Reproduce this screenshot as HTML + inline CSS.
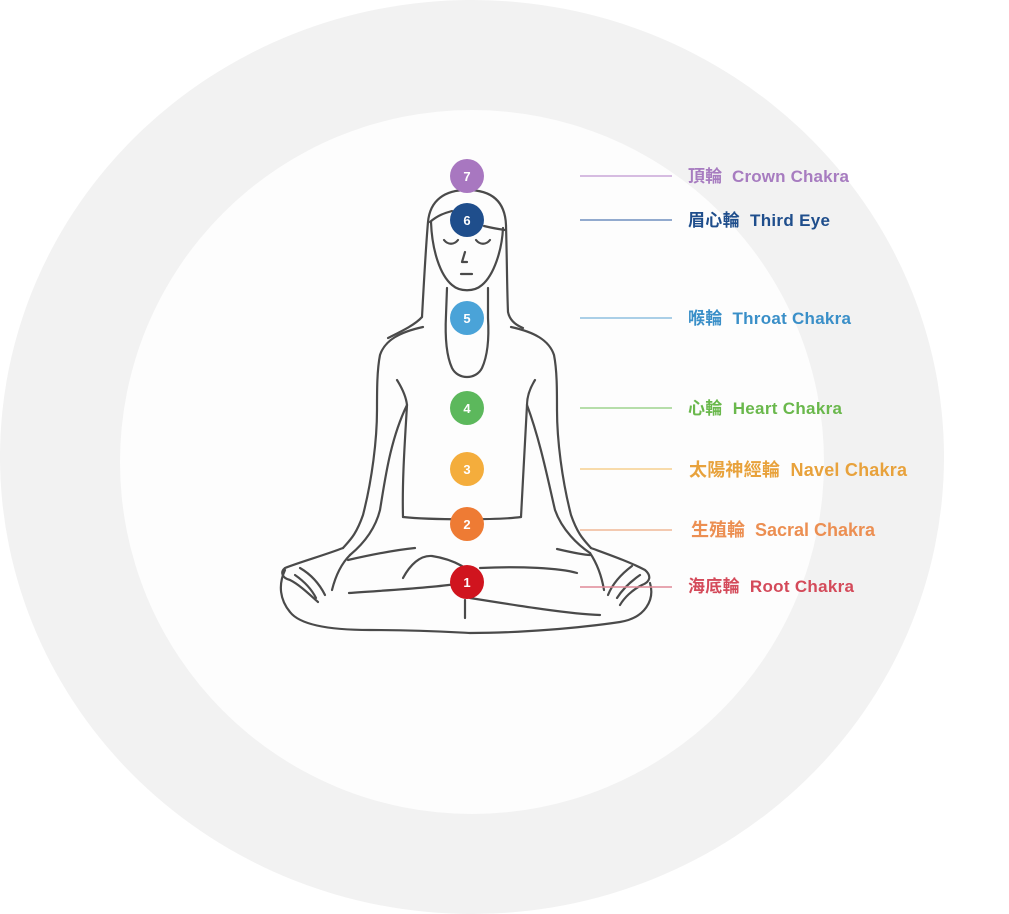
<!DOCTYPE html>
<html><head><meta charset="utf-8"><style>
html,body{margin:0;padding:0;background:#fff;width:1009px;height:914px;overflow:hidden}
text{font-family:"Liberation Sans","Noto Sans CJK TC",sans-serif;font-size:17px;font-weight:bold}
</style></head><body>
<svg width="1009" height="914" viewBox="0 0 1009 914" xmlns="http://www.w3.org/2000/svg">
<ellipse cx="472" cy="457" rx="472" ry="457" fill="#f2f2f2"/>
<circle cx="472" cy="462" r="352" fill="#fdfdfd"/>
<g fill="none" stroke="#4a4a4a" stroke-width="2.2" stroke-linecap="round" stroke-linejoin="round">
<path d="M422,317 C424,280 426,245 428,222 C430,200 445,190 467,190 C490,190 505,200 506,225 C507,260 507,290 508,312 C510,322 518,326 523,328"/>
<path d="M422,317 C415,325 400,332 388,338"/>
<path d="M430,222 C438,215 445,213 452,211"/>
<path d="M484,226 C492,228 498,229 505,230"/>
<path d="M431,222 C432,250 440,275 452,285 C460,292 474,292 482,285 C494,275 502,250 503,228"/>
<path d="M444,240 C448,245 454,245 458,240"/>
<path d="M476,240 C480,245 486,245 490,240"/>
<path d="M465,252 L462,262 L467,262"/>
<path d="M461,274 L472,274"/>
<path d="M447,288 L446,315 C445,335 446,355 452,368 C458,380 476,380 482,368 C488,355 489,335 488,318 L488,288"/>
<path d="M423,327 C400,332 385,340 380,355 C377,370 377,390 377,410 C377,440 372,480 363,515 C356,535 350,540 343,548"/>
<path d="M511,327 C534,332 549,340 554,355 C557,370 557,390 557,410 C557,440 562,480 571,515 C578,535 584,540 591,548"/>
<path d="M397,380 C402,388 406,396 407,405 C405,440 402,480 403,517"/>
<path d="M535,380 C530,388 527,396 527,405 C525,440 523,480 521,517"/>
<path d="M403,517 C430,520 500,520 521,517"/>
<path d="M407,405 C390,440 385,480 380,510 C375,530 362,545 350,555"/>
<path d="M527,405 C540,440 548,480 555,510 C562,530 578,545 590,553"/>
<path d="M343,548 C325,555 300,562 285,568 C280,572 282,578 290,580 C300,585 310,595 318,602"/>
<path d="M350,555 C340,565 335,578 332,590"/>
<path d="M295,575 C305,582 312,590 316,598"/>
<path d="M300,568 C312,575 320,585 325,595"/>
<path d="M591,548 C610,555 630,562 645,570 C652,576 650,582 642,585 C632,590 624,598 620,605"/>
<path d="M590,553 C598,565 602,578 604,590"/>
<path d="M640,575 C630,582 622,590 617,598"/>
<path d="M632,566 C620,575 612,585 608,595"/>
<path d="M285,570 C278,585 280,600 290,612 C300,625 330,630 370,630 C420,630 450,632 470,633 C520,633 580,628 620,622 C645,618 655,600 650,583"/>
<path d="M348,560 C370,555 395,550 415,548"/>
<path d="M557,549 C570,552 585,555 590,555"/>
<path d="M349,593 C390,590 430,588 456,584"/>
<path d="M470,598 C520,606 570,614 600,615"/>
<path d="M465,600 L465,618"/>
<path d="M403,578 C410,565 420,555 432,556 C445,558 455,562 462,566"/>
<path d="M480,568 C520,566 560,568 577,573"/>
</g>
<g text-anchor="middle">
<circle cx="467" cy="176" r="17" fill="#a877c0"/><text x="467" y="181" style="font-size:13px" fill="#fff">7</text>
<circle cx="467" cy="220" r="17" fill="#1f4e8c"/><text x="467" y="225" style="font-size:13px" fill="#fff">6</text>
<circle cx="467" cy="318" r="17" fill="#4aa3d8"/><text x="467" y="323" style="font-size:13px" fill="#fff">5</text>
<circle cx="467" cy="408" r="17" fill="#5cb85c"/><text x="467" y="413" style="font-size:13px" fill="#fff">4</text>
<circle cx="467" cy="469" r="17" fill="#f4ad3c"/><text x="467" y="474" style="font-size:13px" fill="#fff">3</text>
<circle cx="467" cy="524" r="17" fill="#ee7b34"/><text x="467" y="529" style="font-size:13px" fill="#fff">2</text>
<circle cx="467" cy="582" r="17" fill="#d0141e"/><text x="467" y="587" style="font-size:13px" fill="#fff">1</text>
</g>
<g stroke-width="1.5">
<line x1="580" y1="176" x2="672" y2="176" stroke="#c9a6d8"/>
<line x1="580" y1="220" x2="672" y2="220" stroke="#6f8fbf"/>
<line x1="580" y1="318" x2="672" y2="318" stroke="#8fc0e0"/>
<line x1="580" y1="408" x2="672" y2="408" stroke="#9fd48f"/>
<line x1="580" y1="469" x2="672" y2="469" stroke="#f6d08f"/>
<line x1="580" y1="530" x2="672" y2="530" stroke="#f0b896"/>
<line x1="580" y1="587" x2="672" y2="587" stroke="#e08a98"/>
</g>
<text x="688" y="182" fill="#a77cc0" textLength="161">頂輪&#160; Crown Chakra</text>
<text x="688" y="226" fill="#1f4e8c" textLength="142">眉心輪&#160; Third Eye</text>
<text x="688" y="324" fill="#3a8fc8" textLength="163">喉輪&#160; Throat Chakra</text>
<text x="688" y="414" fill="#6ab84c" textLength="154">心輪&#160; Heart Chakra</text>
<text x="689" y="476" fill="#e8a23c" style="font-size:18px" textLength="218">太陽神經輪&#160; Navel Chakra</text>
<text x="691" y="536" fill="#ec8f52" style="font-size:18px" textLength="184">生殖輪&#160; Sacral Chakra</text>
<text x="688" y="592" fill="#d44a5a" textLength="166">海底輪&#160; Root Chakra</text>
</svg>
</body></html>
